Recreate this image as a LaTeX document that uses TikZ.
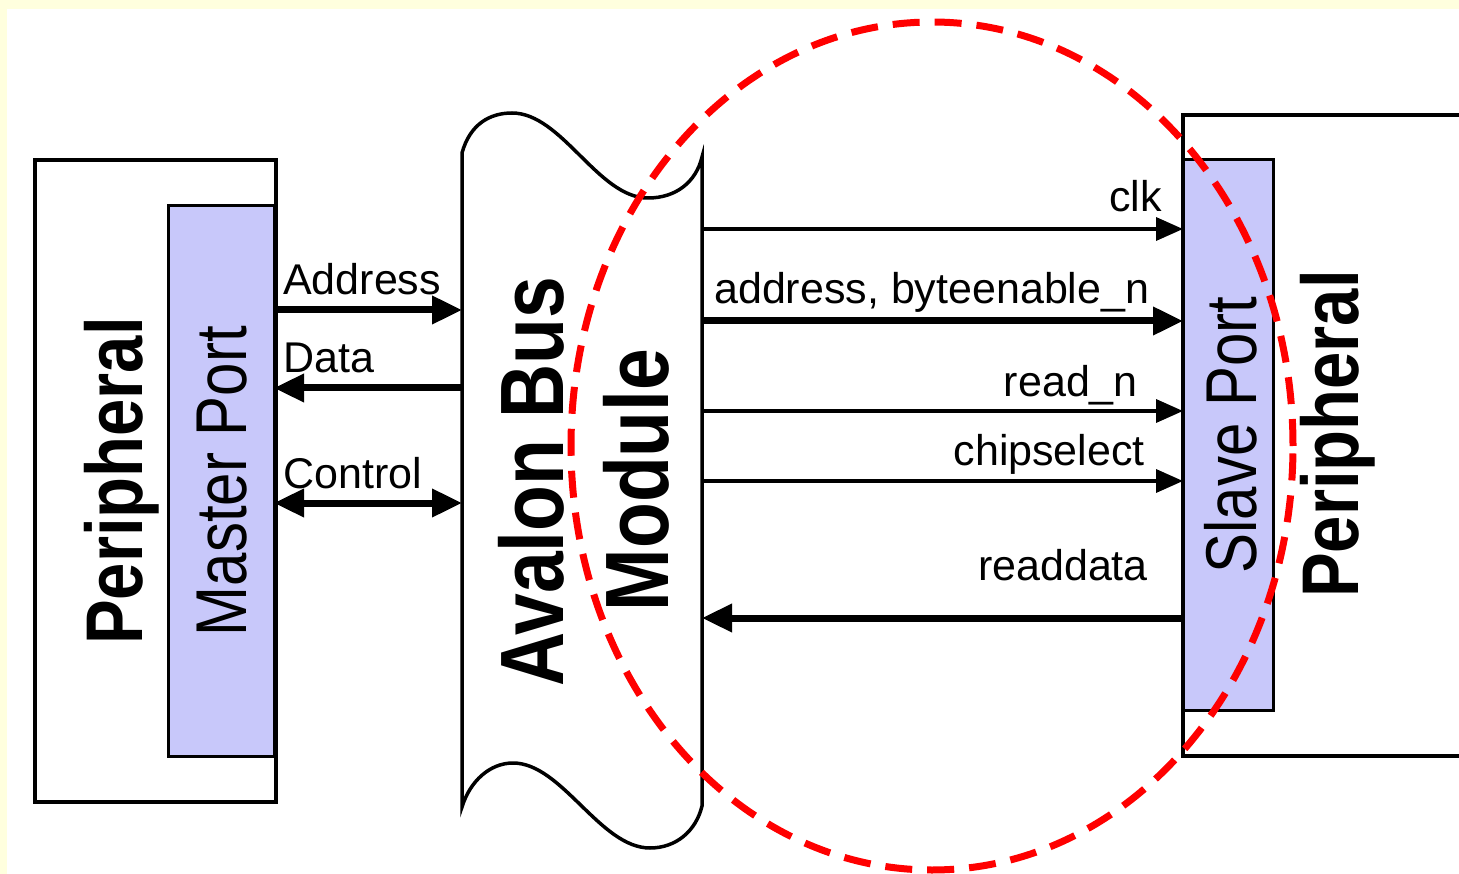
\documentclass[tikz,border=0pt]{standalone}
\usepackage{fontspec}
\setmainfont{Liberation Sans}
\usetikzlibrary{arrows.meta}
\definecolor{pagebg}{RGB}{255,255,222}
\definecolor{portfill}{RGB}{200,200,250}
\definecolor{ringred}{RGB}{255,0,0}
% tall lettering for the vertical titles
\newcommand{\tallword}[1]{\scalebox{1}[1.2]{#1}}

\begin{document}
\begin{tikzpicture}[x=1pt,y=-1pt,
  box/.style={draw=black, line width=3.5pt, fill=white, inner sep=0pt, outer sep=0pt},
  port/.style={draw=black, line width=3pt, fill=portfill, inner sep=0pt, outer sep=0pt},
  lbl/.style={inner sep=0pt, font=\fontsize{43}{48}\selectfont},
  vlbl/.style={inner sep=0pt, rotate=90, anchor=center},
  bus/.style={line width=7pt, line cap=butt},
  wire/.style={line width=3.5pt, line cap=butt},
  bighead/.style={-{Triangle[length=30pt,width=27pt]}},
  smallhead/.style={-{Triangle[length=27pt,width=23pt]}},
  bothhead/.style={{Triangle[length=30pt,width=27pt]}-{Triangle[length=30pt,width=27pt]}},
  ring/.style={draw=ringred, line width=7pt, dash pattern=on 27pt off 15pt}
]
\useasboundingbox (0,0) rectangle (1459,874);
\clip (0,0) rectangle (1459,874);

% page background with a pale border along the top and left
\fill[pagebg] (0,0) rectangle (1459,874);
\fill[white] (7,9) rectangle (1459,874);

% master side
\node[box, minimum width=241pt, minimum height=642pt] (lp) at (155.5,481) {};
\node[port, minimum width=106pt, minimum height=550pt] (mp) at (221,481) {};
\node[vlbl, font=\fontsize{67}{70}\selectfont\bfseries] (lpText) at (122,481) {\tallword{Peripheral}};
\node[vlbl, font=\fontsize{60}{64}\selectfont] (mpText) at (222.5,481) {\tallword{Master Port}};

% slave side (box runs past the right edge)
\node[box, minimum width=317pt, minimum height=641pt] (rp) at (1341.5,435.5) {};
\node[port, minimum width=90pt, minimum height=550pt] (sp) at (1228,435) {};
\node[vlbl, font=\fontsize{60}{64}\selectfont] (spText) at (1231,435) {\tallword{Slave Port}};
\node[vlbl, font=\fontsize{67}{70}\selectfont\bfseries] (rpText) at (1338,434) {\tallword{Peripheral}};

% Avalon bus module: a banner with wavy top and bottom
\draw[line width=3.5pt, fill=white]
  (462,153) .. controls (470,124) and (490,113) .. (512,113)
  .. controls (562,113) and (598,198) .. (648,198)
  .. controls (676,198) and (696,182) .. (702,157)
  -- (702,806)
  .. controls (696,831) and (676,848) .. (650,848)
  .. controls (600,848) and (562,763) .. (513,763)
  .. controls (490,763) and (470,781) .. (462,807)
  -- cycle;
\coordinate (busW) at (462,480);
\coordinate (busE) at (702,480);
\node[vlbl, font=\fontsize{75}{80}\selectfont\bfseries] (busText1) at (531,482) {\tallword{Avalon Bus}};
\node[vlbl, font=\fontsize{75}{80}\selectfont\bfseries] (busText2) at (636,480) {\tallword{Module}};

% signal rows
\coordinate (rAddr) at (0,310);
\coordinate (rData) at (0,388);
\coordinate (rCtrl) at (0,503);
\coordinate (rClk) at (0,229);
\coordinate (rAbe) at (0,321);
\coordinate (rRd) at (0,411);
\coordinate (rCs) at (0,481);
\coordinate (rRdd) at (0,618);

% master <-> bus
\draw[bus, bighead] (mp.east |- rAddr) -- (busW |- rAddr);
\draw[bus, bighead] (busW |- rData) -- (mp.east |- rData);
\draw[bus, bothhead] (mp.east |- rCtrl) -- (busW |- rCtrl);
\node[lbl, anchor=base west] (tAddr) at (283,295) {Address};
\node[lbl, anchor=base west] (tData) at (283,373) {Data};
\node[lbl, anchor=base west] (tCtrl) at (283,488) {Control};

% bus <-> slave
\draw[wire, smallhead] (busE |- rClk) -- (sp.west |- rClk);
\draw[bus, bighead] (busE |- rAbe) -- (sp.west |- rAbe);
\draw[wire, smallhead] (busE |- rRd) -- (sp.west |- rRd);
\draw[wire, smallhead] (busE |- rCs) -- (sp.west |- rCs);
\draw[bus, bighead] (sp.west |- rRdd) -- (busE |- rRdd);
\node[lbl, anchor=base east] (tClk) at (1162,212) {clk};
\node[lbl, anchor=base west] (tAbe) at (714,304) {address, byteenable\_n};
\node[lbl, anchor=base east] (tRd) at (1138,396) {read\_n};
\node[lbl, anchor=base east] (tCs) at (1145,465) {chipselect};
\node[lbl, anchor=base east] (tRdd) at (1148,580) {readdata};

% dashed highlight ring
\draw[ring] (932,446) ellipse [x radius=361pt, y radius=424pt];
\end{tikzpicture}
\end{document}
